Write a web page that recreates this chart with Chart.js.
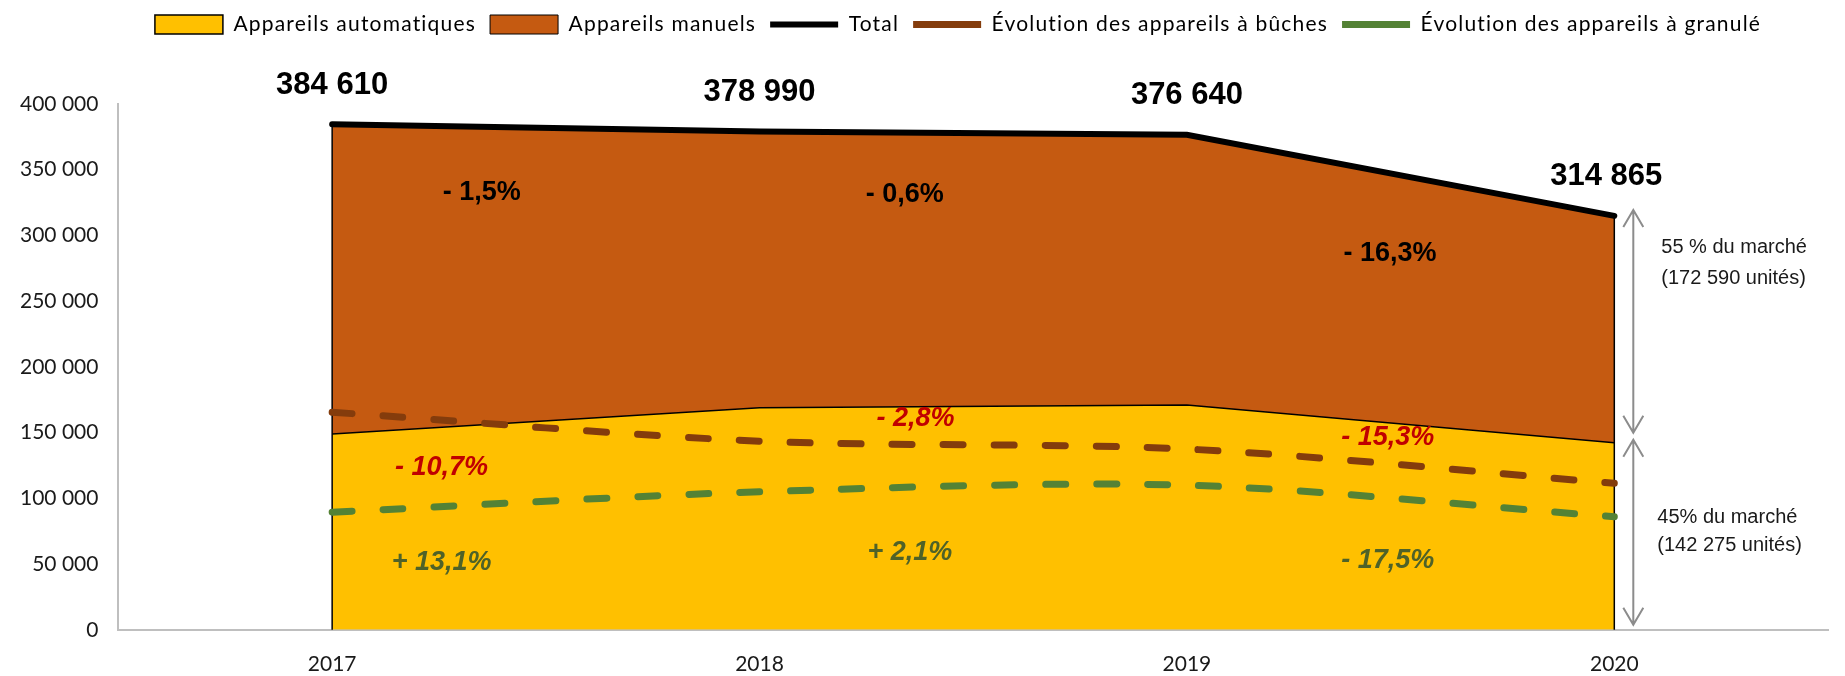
<!DOCTYPE html>
<html lang="fr">
<head>
<meta charset="utf-8">
<script src="https://cdn.jsdelivr.net/npm/chart.js@4"></script>
<style>
  html, body { margin: 0; padding: 0; background: #fff; }
  #wrap { width: 1845px; height: 676px; }
</style>
</head>
<body>
<div id="wrap"><canvas id="marcheChart"></canvas></div>
<script>
// Données
const annees = ['2017', '2018', '2019', '2020'];
const automatiques = [149000, 169000, 171000, 142275];
const manuels = [235610, 209990, 205640, 172590];
const total = [384610, 378990, 376640, 314865];
const evolBuches = [165500, 143500, 137500, 111500];
const evolGranules = [89500, 105000, 110000, 86000];

const txtTotal = ['- 1,5%', '- 0,6%', '- 16,3%'];
const txtBuches = ['- 10,7%', '- 2,8%', '- 15,3%'];
const txtGranules = ['+ 13,1%', '+ 2,1%', '- 17,5%'];
const partsMarche = [['55 % du marché', '(172 590 unités)'], ['45% du marché', '(142 275 unités)']];

const fmt = v => String(v).replace(/\B(?=(\d{3})+(?!\d))/g, ' ');

// place sous la légende + texte un peu espacé
const espaceLegende = {
  id: 'espaceLegende',
  beforeInit(chart) {
    const lg = chart.legend;
    const fitOrig = lg.fit;
    const drawOrig = lg.draw;
    lg.fit = function () {
      this.ctx.letterSpacing = '1.2px';
      fitOrig.call(this);
      this.ctx.letterSpacing = '0px';
      this.height += 59;
    };
    lg.draw = function () {
      this.ctx.save();
      this.ctx.translate(44, 0);
      this.ctx.letterSpacing = '1.2px';
      drawOrig.call(this);
      this.ctx.letterSpacing = '0px';
      this.ctx.restore();
    };
  }
};

// bords verticaux des aires (dessinés juste après l'aire jaune)
const bordsAires = {
  id: 'bordsAires',
  afterDatasetDraw(chart, args) {
    if (args.index !== 0) return;
    const { ctx, scales: { x, y } } = chart;
    ctx.save();
    ctx.strokeStyle = '#000';
    ctx.lineWidth = 1.5;
    [0, annees.length - 1].forEach(i => {
      const px = x.getPixelForValue(i);
      ctx.beginPath();
      ctx.moveTo(px, y.getPixelForValue(total[i]));
      ctx.lineTo(px, y.getPixelForValue(0));
      ctx.stroke();
    });
    ctx.restore();
  }
};

function fleche(ctx, px, y1, y2) {
  ctx.beginPath();
  ctx.moveTo(px, y1);
  ctx.lineTo(px, y2);
  ctx.moveTo(px - 10, y1 + 17); ctx.lineTo(px, y1); ctx.lineTo(px + 10, y1 + 17);
  ctx.moveTo(px - 10, y2 - 17); ctx.lineTo(px, y2); ctx.lineTo(px + 10, y2 - 17);
  ctx.stroke();
}

const etiquettes = {
  id: 'etiquettes',
  afterDatasetsDraw(chart) {
    const { ctx, scales: { x, y } } = chart;
    ctx.save();
    ctx.textAlign = 'center';
    ctx.textBaseline = 'middle';

    // valeurs du total
    ctx.font = 'bold 31px "Liberation Sans", Arial, sans-serif';
    ctx.fillStyle = '#000';
    total.forEach((v, i) => {
      const dx = i === total.length - 1 ? -8 : 0;
      ctx.fillText(fmt(v), x.getPixelForValue(i) + dx, y.getPixelForValue(v) - 39);
    });

    // évolutions
    ctx.font = 'bold 27px "Liberation Sans", Arial, sans-serif';
    const posTotal = [[0.35, 333000], [1.34, 331000], [2.475, 286000]];
    txtTotal.forEach((t, i) => ctx.fillText(t, x.getPixelForValue(posTotal[i][0]), y.getPixelForValue(posTotal[i][1])));

    ctx.font = 'italic bold 27px "Liberation Sans", Arial, sans-serif';
    ctx.fillStyle = '#c00000';
    const posBuches = [[0.256, 123500], [1.365, 161000], [2.47, 146000]];
    txtBuches.forEach((t, i) => ctx.fillText(t, x.getPixelForValue(posBuches[i][0]), y.getPixelForValue(posBuches[i][1])));

    ctx.fillStyle = '#4f6228';
    const posGranules = [[0.256, 51000], [1.352, 59000], [2.47, 53000]];
    txtGranules.forEach((t, i) => ctx.fillText(t, x.getPixelForValue(posGranules[i][0]), y.getPixelForValue(posGranules[i][1])));

    // flèches de parts de marché
    const n = annees.length - 1;
    const xf = x.getPixelForValue(n) + 19;
    ctx.strokeStyle = '#8c8c8c';
    ctx.lineWidth = 2;
    fleche(ctx, xf, y.getPixelForValue(total[n]) - 6, y.getPixelForValue(automatiques[n]) - 10);
    fleche(ctx, xf, y.getPixelForValue(automatiques[n]) - 3, y.getPixelForValue(0) - 5);

    ctx.font = '20px "Liberation Sans", Arial, sans-serif';
    ctx.fillStyle = '#1a1a1a';
    ctx.textAlign = 'left';
    const posParts = [[47, 291000, 267500], [43, 85500, 64500]];
    partsMarche.forEach((lignes, k) => {
      const [dx, v1, v2] = posParts[k];
      ctx.fillText(lignes[0], x.getPixelForValue(n) + dx, y.getPixelForValue(v1));
      ctx.fillText(lignes[1], x.getPixelForValue(n) + dx, y.getPixelForValue(v2));
    });
    ctx.restore();
  }
};

const ctx = document.getElementById('marcheChart');

new Chart(ctx, {
  type: 'line',
  data: {
    labels: annees,
    datasets: [
      {
        label: 'Appareils automatiques',
        data: automatiques,
        backgroundColor: '#ffc000',
        borderColor: '#000',
        borderWidth: 1.5,
        fill: 'origin',
        stack: 'parc',
        order: 5,
        pointStyle: 'rect',
        pointRadius: 0
      },
      {
        label: 'Appareils manuels',
        data: manuels,
        backgroundColor: '#c55a11',
        borderColor: '#000',
        borderWidth: 1,
        fill: '-1',
        stack: 'parc',
        order: 5,
        pointStyle: 'rect',
        pointRadius: 0
      },
      {
        label: 'Total',
        data: total,
        borderColor: '#000',
        backgroundColor: '#000',
        borderWidth: 6,
        borderCapStyle: 'round',
        fill: false,
        stack: 'total',
        order: 0,
        pointStyle: 'line',
        pointRadius: 0
      },
      {
        label: 'Évolution des appareils à bûches',
        data: evolBuches,
        borderColor: '#843c0c',
        backgroundColor: '#843c0c',
        borderWidth: 7,
        borderDash: [20, 31],
        borderCapStyle: 'round',
        tension: 0.3,
        fill: false,
        stack: 'buches',
        order: 1,
        pointStyle: 'line',
        pointRadius: 0
      },
      {
        label: 'Évolution des appareils à granulé',
        data: evolGranules,
        borderColor: '#548235',
        backgroundColor: '#548235',
        borderWidth: 7,
        borderDash: [20, 31],
        borderCapStyle: 'round',
        tension: 0.3,
        fill: false,
        stack: 'granules',
        order: 1,
        pointStyle: 'line',
        pointRadius: 0
      }
    ]
  },
  options: {
    responsive: true,
    maintainAspectRatio: false,
    animation: false,
    layout: { padding: { left: 0, right: 17, top: 0, bottom: -23 } },
    plugins: {
      tooltip: { enabled: false },
      legend: {
        position: 'top',
        labels: {
          color: '#000',
          font: { family: 'Lato', size: 21 },
          usePointStyle: true,
          pointStyleWidth: 68,
          boxHeight: 19,
          padding: 14,
          sort: (a, b) => a.datasetIndex - b.datasetIndex
        }
      }
    },
    scales: {
      x: {
        offset: true,
        grid: { display: true, drawOnChartArea: false, drawTicks: false },
        border: { color: '#bfbfbf', width: 2 },
        ticks: { color: '#1a1a1a', font: { family: 'Lato', size: 21 }, padding: 22 }
      },
      y: {
        stacked: true,
        min: 0,
        max: 400000,
        grid: { display: true, drawOnChartArea: false, drawTicks: false },
        border: { color: '#bfbfbf', width: 2 },
        ticks: {
          stepSize: 50000,
          color: '#1a1a1a',
          font: { family: 'Lato', size: 21 },
          padding: 20,
          callback: v => fmt(v)
        }
      }
    }
  },
  plugins: [espaceLegende, bordsAires, etiquettes]
});
</script>
</body>
</html>
